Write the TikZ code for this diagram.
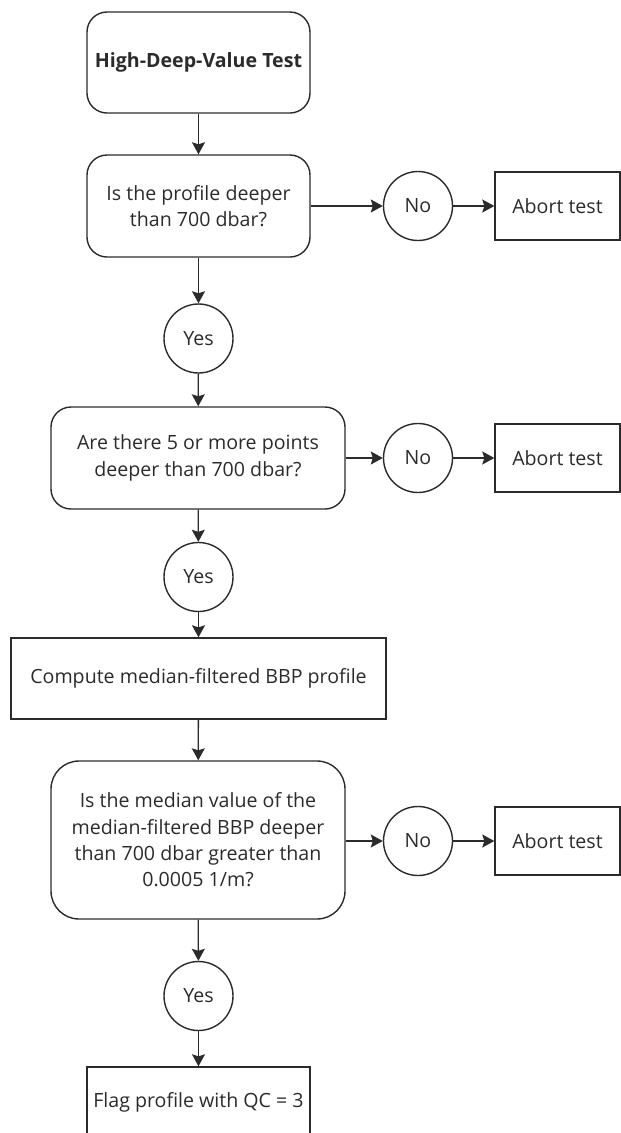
\documentclass[tikz,border=0pt]{standalone}
\usepackage{fontspec}
\setmainfont{Open Sans}
\usepackage{tikz}
\usetikzlibrary{arrows.meta}

\definecolor{ink}{HTML}{2B2B2B}

\begin{document}
\begin{tikzpicture}[x=1pt,y=-1pt,
    font=\fontsize{19.6}{26.4}\selectfont, text=ink,
    qbox/.style={draw=ink,line width=1.4pt,rounded corners=20pt,align=center,inner sep=0pt},
    sbox/.style={draw=ink,line width=1.4pt,align=center,inner sep=0pt},
    ans/.style={draw=ink,line width=1.4pt,circle,minimum size=69pt,inner sep=0pt},
    arr/.style={draw=ink,line width=1.3pt,-{Stealth[length=12pt,width=13pt,inset=2pt]}}]
  \useasboundingbox (0,0) rectangle (621,1133);

  % main column
  \node[qbox,minimum width=223pt,minimum height=101pt,font=\fontsize{19.6}{26.4}\selectfont\bfseries] (start) at (198.5,62.5) {High-Deep-Value Test};
  \node[qbox,minimum width=223pt,minimum height=102pt] (q1) at (198.5,206) {Is the profile deeper\\than 700 dbar?};
  \node[ans] (yes1) at (198.5,338.5) {Yes};
  \node[qbox,minimum width=294pt,minimum height=102pt] (q2) at (198,458) {Are there 5 or more points\\deeper than 700 dbar?};
  \node[ans] (yes2) at (198.5,577) {Yes};
  \node[sbox,minimum width=375pt,minimum height=81pt] (median) at (198.5,678.5) {Compute median-filtered BBP profile};
  \node[qbox,rounded corners=28pt,minimum width=294pt,minimum height=158pt] (q3) at (198,840) {Is the median value of the\\median-filtered BBP deeper\\than 700 dbar greater than\\0.0005 1/m?};
  \node[ans] (yes3) at (198.5,996) {Yes};
  \node[sbox,minimum width=223pt,minimum height=70pt] (flag) at (198.5,1102) {Flag profile with QC = 3};

  \draw[arr] (start) -- (q1);
  \draw[arr] (q1) -- (yes1);
  \draw[arr] (yes1) -- (q2);
  \draw[arr] (q2) -- (yes2);
  \draw[arr] (yes2) -- (median);
  \draw[arr] (median) -- (q3);
  \draw[arr] (q3) -- (yes3);
  \draw[arr] (yes3) -- (flag);

  % side branches
  \foreach \i/\y in {1/206,2/458,3/841}{
    \node[ans] (no\i) at (418,\y) {No};
    \node[sbox,minimum width=125pt,minimum height=68pt] (abort\i) at (557.5,\y) {Abort test};
    \draw[arr] (q\i.east |- no\i) -- (no\i);
    \draw[arr] (no\i) -- (abort\i);
  }
\end{tikzpicture}
\end{document}
